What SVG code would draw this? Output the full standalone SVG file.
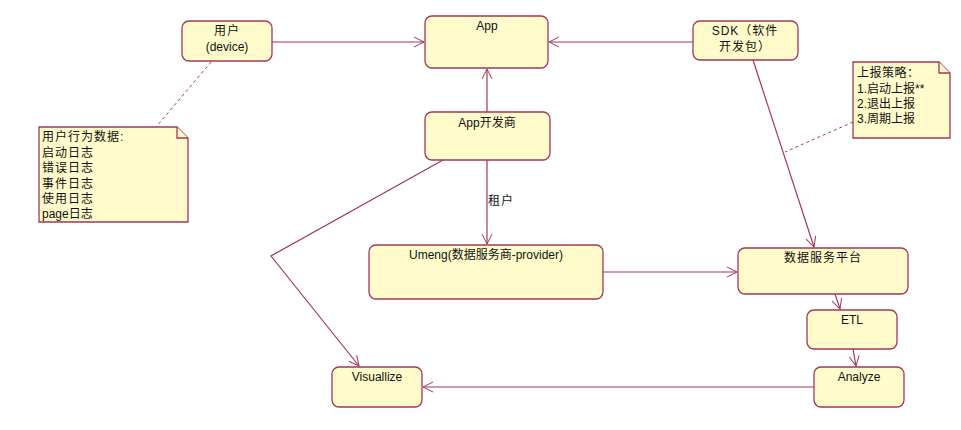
<svg xmlns="http://www.w3.org/2000/svg" width="961" height="430" viewBox="0 0 961 430">
<defs>
<marker id="arr" viewBox="0 0 12 12" refX="11" refY="6" markerWidth="12" markerHeight="12" markerUnits="userSpaceOnUse" orient="auto">
<path d="M1,1 L11,6 L1,11" fill="none" stroke="#a3375a" stroke-width="1"/>
</marker>
<style>
.box{fill:#fffbcb;stroke:#a3375a;stroke-width:1.3}
.note{fill:#fffbcb;stroke:#a3375a;stroke-width:1.3}
.c{fill:none;stroke:#a3375a;stroke-width:1.2}
.d{fill:none;stroke:#a3375a;stroke-width:1;stroke-dasharray:3,3}
text{font-family:"Liberation Sans","Noto Sans CJK SC",sans-serif;font-size:12px;fill:#111}
.m{text-anchor:middle}
.sp{letter-spacing:1px}
</style>
</defs>
<rect width="961" height="430" fill="#ffffff"/>
<g id="connectors">
<line class="c" x1="272" y1="42" x2="424" y2="42" marker-end="url(#arr)"/>
<line class="c" x1="693" y1="42" x2="549" y2="42" marker-end="url(#arr)"/>
<line class="c" x1="487" y1="112" x2="487" y2="69" marker-end="url(#arr)"/>
<line class="c" x1="487" y1="160" x2="487" y2="244" marker-end="url(#arr)"/>
<text class="sp" x="488" y="205">租户</text>
<line class="c" x1="753" y1="60" x2="814" y2="247" marker-end="url(#arr)"/>
<line class="c" x1="603" y1="272" x2="737" y2="272" marker-end="url(#arr)"/>
<line class="c" x1="835" y1="294" x2="840" y2="309" marker-end="url(#arr)"/>
<line class="c" x1="853" y1="349" x2="856" y2="366" marker-end="url(#arr)"/>
<line class="c" x1="814" y1="387" x2="423" y2="387" marker-end="url(#arr)"/>
<polyline class="c" points="443,160 271,256 359,366" marker-end="url(#arr)"/>
<line class="d" x1="211" y1="62" x2="156" y2="127"/>
<line class="d" x1="853" y1="122" x2="785" y2="152"/>
</g>
<g id="user">
<rect class="box" x="182" y="21" width="90" height="40" rx="7"/>
<text class="m sp" x="227" y="35">用户</text>
<text class="m" x="227" y="51">(device)</text>
</g>
<g id="app">
<rect class="box" x="425" y="16" width="123" height="52" rx="7"/>
<text class="m" x="487" y="30">App</text>
</g>
<g id="sdk">
<rect class="box" x="693" y="21" width="105" height="39" rx="7"/>
<text class="m sp" x="745" y="35">SDK（软件</text>
<text class="m sp" x="745" y="51">开发包）</text>
</g>
<g id="appdev">
<rect class="box" x="425" y="112" width="125" height="48" rx="7"/>
<text class="m" x="487" y="127">App开发商</text>
</g>
<g id="umeng">
<rect class="box" x="369" y="245" width="234" height="54" rx="7"/>
<text class="m" x="486" y="259">Umeng(数据服务商-provider)</text>
</g>
<g id="platform">
<rect class="box" x="738" y="248" width="170" height="46" rx="7"/>
<text class="m sp" x="823" y="262">数据服务平台</text>
</g>
<g id="etl">
<rect class="box" x="807" y="310" width="90" height="39" rx="7"/>
<text class="m" x="852" y="324">ETL</text>
</g>
<g id="analyze">
<rect class="box" x="814" y="367" width="90" height="40" rx="7"/>
<text class="m" x="859" y="381">Analyze</text>
</g>
<g id="visualize">
<rect class="box" x="332" y="367" width="90" height="40" rx="7"/>
<text class="m" x="377" y="381">Visuallize</text>
</g>
<g id="note-user">
<path class="note" d="M39,127 H177 L188,138 V222 H39 Z"/>
<path class="note" d="M177,127 V138 H188" fill="none"/>
<text class="sp" x="42" y="141">用户行为数据:</text>
<text class="sp" x="42" y="157">启动日志</text>
<text class="sp" x="42" y="172">错误日志</text>
<text class="sp" x="42" y="188">事件日志</text>
<text class="sp" x="42" y="203">使用日志</text>
<text x="42" y="218">page日志</text>
</g>
<g id="note-sdk">
<path class="note" d="M853,62 H939 L950,73 V138 H853 Z"/>
<path class="note" d="M939,62 V73 H950" fill="none"/>
<text x="857" y="77" letter-spacing="0.5">上报策略：</text>
<text x="857" y="93">1.启动上报**</text>
<text x="857" y="108">2.退出上报</text>
<text x="857" y="123">3.周期上报</text>
</g>
</svg>
